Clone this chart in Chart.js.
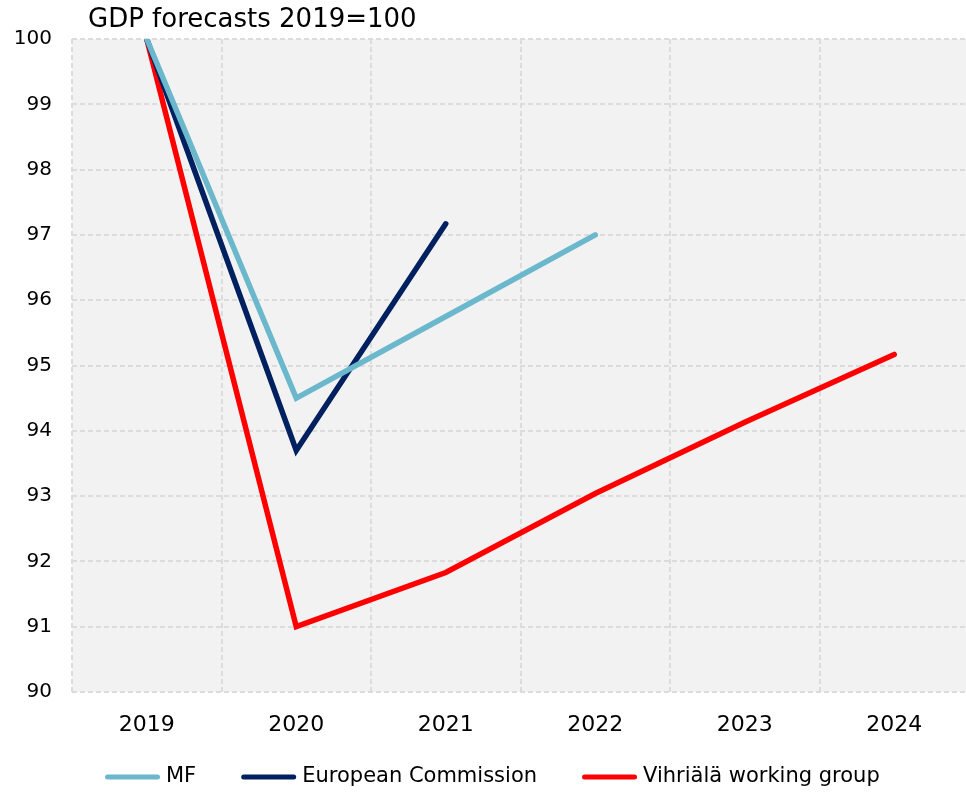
<!DOCTYPE html>
<html lang="en">
  <head>
    <meta charset="UTF-8" />
    <title>GDP forecasts 2019=100</title>
    <script src="https://cdn.jsdelivr.net/npm/chart.js@4.4.0/dist/chart.umd.min.js"></script>
    <style>
      html,
      body {
        margin: 0;
        padding: 0;
        background: #ffffff;
        overflow: hidden;
      }
      #wrap {
        width: 966px;
        height: 792px;
        overflow: hidden;
      }
    </style>
  </head>
  <body>
    <div id="wrap"><canvas id="gdpChart" width="969" height="792"></canvas></div>
    <script>
      const years = ["2019", "2020", "2021", "2022", "2023", "2024"];
      const mf = [100, 94.5, 95.75, 97.0, null, null];
      const europeanCommission = [100, 93.7, 97.17, null, null, null];
      const vihriala = [100, 91.0, 91.83, 93.04, 94.13, 95.17];

      const FONT = "'DejaVu Sans', 'Noto Sans', sans-serif";

      // grey plot background, title and line legend
      const decorations = {
        id: "decorations",
        beforeDraw(chart) {
          const { ctx, chartArea } = chart;
          ctx.save();
          ctx.fillStyle = "#f2f2f2";
          ctx.fillRect(chartArea.left, chartArea.top, chartArea.right - chartArea.left, chartArea.bottom - chartArea.top);
          ctx.restore();
        },
        afterDraw(chart) {
          const ctx = chart.ctx;
          ctx.save();
          ctx.fillStyle = "#000";
          ctx.font = "26px " + FONT;
          ctx.textBaseline = "middle";
          ctx.fillText("GDP forecasts 2019=100", 88, 20);

          // legend row under the axis
          ctx.font = "21px " + FONT;
          let x = 105;
          const y = 777;
          chart.data.datasets.forEach((ds) => {
            ctx.strokeStyle = ds.borderColor;
            ctx.lineWidth = 5;
            ctx.lineCap = "round";
            ctx.beginPath();
            ctx.moveTo(x + 2.5, y);
            ctx.lineTo(x + 52.5, y);
            ctx.stroke();
            ctx.fillText(ds.label, x + 61, y);
            x += 61 + ctx.measureText(ds.label).width + 45;
          });
          ctx.restore();
        },
      };

      function line(label, data, color) {
        return {
          label: label,
          data: data,
          borderColor: color,
          backgroundColor: color,
          borderWidth: 5.5,
          pointRadius: 0,
          tension: 0,
          spanGaps: false,
          borderCapStyle: "round",
          borderJoinStyle: "miter",
        };
      }

      new Chart(document.getElementById("gdpChart"), {
        type: "line",
        data: {
          labels: years,
          datasets: [
            line("MF", mf, "#6bb8cc"),
            line("European Commission", europeanCommission, "#002060"),
            line("Vihriälä working group", vihriala, "#ff0000"),
          ],
        },
        options: {
          responsive: false,
          animation: false,
          layout: { padding: { top: 39, right: 0, left: 0, bottom: 50 } },
          scales: {
            x: {
              offset: true,
              grid: {
                offset: true,
                color: "#dcdcdc",
                lineWidth: 2,
                drawTicks: false,
              },
              border: { display: false, dash: [5, 3] },
              ticks: { color: "#000", font: { family: FONT, size: 22 }, padding: 20 },
              afterFit(scale) {
                scale.height = 50;
              },
            },
            y: {
              min: 90,
              max: 100,
              ticks: { stepSize: 1, color: "#000", font: { family: FONT, size: 20 }, padding: 20 },
              grid: { color: "#dcdcdc", lineWidth: 2, drawTicks: false },
              border: { display: false, dash: [5, 3] },
              afterFit(scale) {
                scale.width = 72;
              },
            },
          },
          plugins: {
            legend: { display: false },
            tooltip: { enabled: false },
          },
        },
        plugins: [decorations],
      });
    </script>
  </body>
</html>
